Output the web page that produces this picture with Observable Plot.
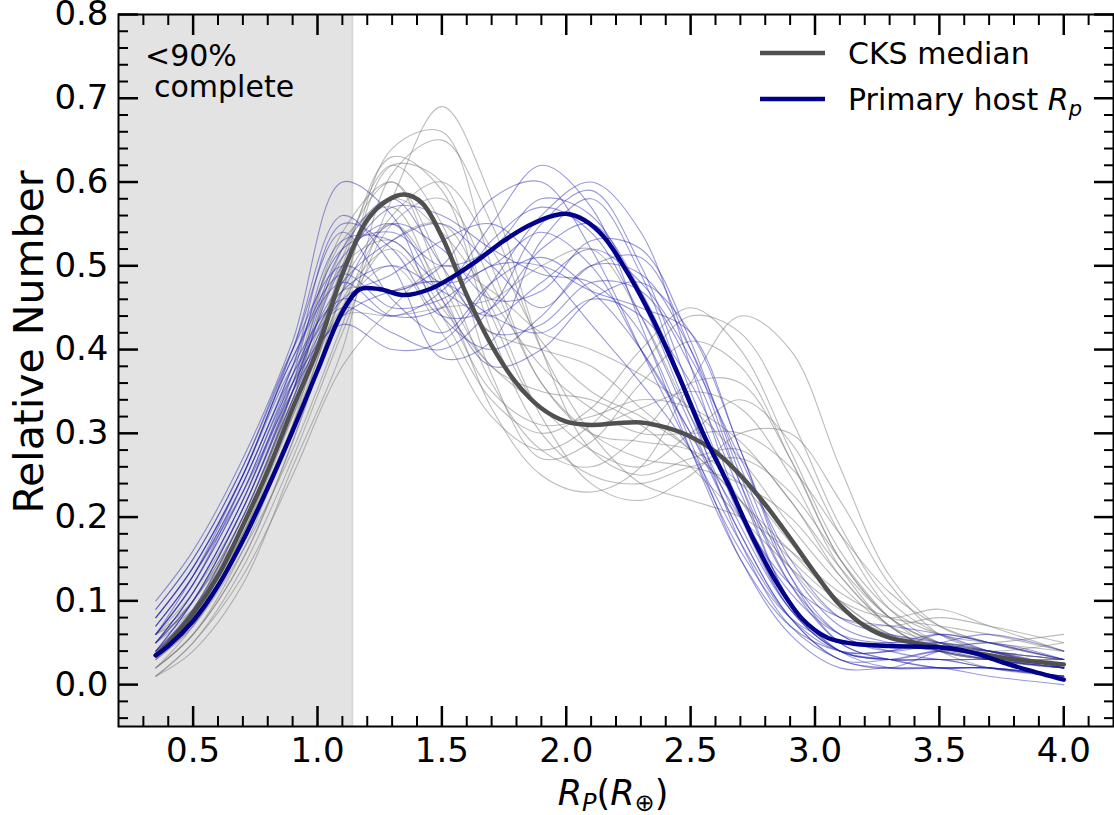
<!DOCTYPE html>
<html><head><meta charset="utf-8">
<script src="https://cdn.jsdelivr.net/npm/d3@7"></script>
<script src="https://cdn.jsdelivr.net/npm/@observablehq/plot@0.6"></script>
<style>
body{margin:0;background:#fff;}
#chart svg{display:block;}
</style></head><body><div id="chart"></div>
<script>
// ---- data ----
const gridX = [0.35, 0.5, 0.7, 0.9, 1.1, 1.3, 1.5, 1.7, 1.9, 2.1, 2.3, 2.5, 2.7, 2.9, 3.1, 3.3, 3.5, 3.7, 4.0];

// bootstrap KDE draws, CKS sample (grey)
const cksDraws = [
  [0.02, 0.06, 0.15, 0.29, 0.47, 0.64, 0.66, 0.50, 0.36, 0.30, 0.29, 0.28, 0.24, 0.17, 0.10, 0.06, 0.04, 0.03, 0.02],
  [0.05, 0.09, 0.20, 0.34, 0.52, 0.60, 0.50, 0.36, 0.28, 0.26, 0.30, 0.36, 0.36, 0.27, 0.15, 0.08, 0.05, 0.04, 0.03],
  [0.01, 0.05, 0.14, 0.27, 0.42, 0.55, 0.58, 0.48, 0.36, 0.30, 0.27, 0.26, 0.24, 0.20, 0.13, 0.07, 0.04, 0.03, 0.02],
  [0.06, 0.11, 0.21, 0.36, 0.54, 0.60, 0.48, 0.38, 0.35, 0.34, 0.31, 0.26, 0.20, 0.14, 0.09, 0.06, 0.05, 0.04, 0.05],
  [0.03, 0.08, 0.18, 0.32, 0.48, 0.55, 0.47, 0.33, 0.25, 0.23, 0.26, 0.36, 0.44, 0.40, 0.26, 0.13, 0.07, 0.05, 0.03],
  [0.04, 0.09, 0.20, 0.34, 0.47, 0.47, 0.48, 0.42, 0.40, 0.38, 0.33, 0.28, 0.22, 0.16, 0.10, 0.06, 0.04, 0.03, 0.03],
  [0.02, 0.06, 0.16, 0.31, 0.50, 0.63, 0.59, 0.42, 0.30, 0.25, 0.24, 0.26, 0.27, 0.23, 0.15, 0.08, 0.04, 0.02, 0.01],
  [0.06, 0.09, 0.19, 0.33, 0.44, 0.44, 0.45, 0.46, 0.50, 0.52, 0.44, 0.32, 0.22, 0.14, 0.08, 0.07, 0.08, 0.07, 0.05],
  [0.03, 0.07, 0.17, 0.30, 0.44, 0.53, 0.55, 0.45, 0.32, 0.24, 0.22, 0.25, 0.30, 0.30, 0.22, 0.12, 0.06, 0.04, 0.02],
  [0.05, 0.10, 0.19, 0.35, 0.51, 0.62, 0.55, 0.37, 0.27, 0.29, 0.36, 0.41, 0.38, 0.27, 0.15, 0.08, 0.05, 0.05, 0.06],
  [0.02, 0.07, 0.18, 0.33, 0.49, 0.58, 0.54, 0.46, 0.38, 0.33, 0.30, 0.30, 0.30, 0.26, 0.18, 0.11, 0.07, 0.05, 0.03],
  [0.04, 0.09, 0.19, 0.32, 0.45, 0.50, 0.42, 0.32, 0.28, 0.31, 0.38, 0.44, 0.42, 0.32, 0.19, 0.10, 0.06, 0.04, 0.02],
  [0.01, 0.04, 0.12, 0.26, 0.40, 0.61, 0.65, 0.55, 0.40, 0.30, 0.24, 0.22, 0.20, 0.16, 0.11, 0.08, 0.07, 0.06, 0.04],
  [0.05, 0.10, 0.20, 0.35, 0.53, 0.57, 0.46, 0.35, 0.31, 0.32, 0.34, 0.33, 0.29, 0.22, 0.14, 0.08, 0.05, 0.04, 0.03],
  [0.03, 0.07, 0.16, 0.28, 0.43, 0.58, 0.69, 0.58, 0.40, 0.28, 0.25, 0.27, 0.28, 0.22, 0.13, 0.07, 0.04, 0.03, 0.02],
  [0.04, 0.08, 0.17, 0.30, 0.46, 0.52, 0.44, 0.34, 0.30, 0.33, 0.40, 0.45, 0.40, 0.28, 0.16, 0.09, 0.06, 0.05, 0.04],
  [0.02, 0.06, 0.15, 0.29, 0.45, 0.56, 0.60, 0.52, 0.41, 0.35, 0.32, 0.28, 0.22, 0.15, 0.10, 0.08, 0.09, 0.07, 0.04],
  [0.06, 0.10, 0.20, 0.34, 0.50, 0.53, 0.45, 0.38, 0.33, 0.28, 0.26, 0.30, 0.34, 0.29, 0.18, 0.09, 0.05, 0.04, 0.03],
  [0.01, 0.05, 0.13, 0.25, 0.38, 0.45, 0.50, 0.47, 0.42, 0.40, 0.37, 0.33, 0.27, 0.19, 0.12, 0.07, 0.05, 0.04, 0.02],
  [0.03, 0.08, 0.18, 0.31, 0.47, 0.62, 0.60, 0.44, 0.33, 0.31, 0.33, 0.35, 0.33, 0.25, 0.14, 0.07, 0.04, 0.03, 0.02]
];

// bootstrap KDE draws, primary host radii (blue)
const hostDraws = [
  [0.06, 0.12, 0.24, 0.38, 0.55, 0.52, 0.44, 0.45, 0.52, 0.55, 0.47, 0.34, 0.20, 0.09, 0.04, 0.03, 0.04, 0.04, 0.02],
  [0.09, 0.15, 0.26, 0.40, 0.50, 0.47, 0.50, 0.58, 0.60, 0.52, 0.40, 0.28, 0.16, 0.08, 0.05, 0.05, 0.05, 0.04, 0.03],
  [0.04, 0.09, 0.20, 0.34, 0.47, 0.55, 0.52, 0.46, 0.47, 0.53, 0.52, 0.41, 0.25, 0.12, 0.05, 0.03, 0.03, 0.02, 0.01],
  [0.07, 0.13, 0.24, 0.37, 0.45, 0.42, 0.40, 0.45, 0.55, 0.59, 0.50, 0.35, 0.21, 0.11, 0.06, 0.05, 0.06, 0.05, 0.03],
  [0.05, 0.11, 0.22, 0.36, 0.52, 0.58, 0.50, 0.42, 0.43, 0.48, 0.47, 0.38, 0.24, 0.12, 0.06, 0.04, 0.03, 0.03, 0.02],
  [0.08, 0.14, 0.25, 0.39, 0.48, 0.44, 0.45, 0.53, 0.57, 0.54, 0.44, 0.31, 0.18, 0.08, 0.03, 0.02, 0.02, 0.02, 0.01],
  [0.10, 0.16, 0.27, 0.41, 0.60, 0.56, 0.44, 0.40, 0.44, 0.50, 0.49, 0.40, 0.26, 0.13, 0.06, 0.04, 0.05, 0.06, 0.04],
  [0.04, 0.10, 0.21, 0.35, 0.46, 0.49, 0.53, 0.55, 0.50, 0.43, 0.36, 0.28, 0.17, 0.08, 0.04, 0.04, 0.05, 0.04, 0.02],
  [0.06, 0.12, 0.23, 0.36, 0.43, 0.40, 0.41, 0.48, 0.56, 0.60, 0.54, 0.38, 0.21, 0.09, 0.04, 0.03, 0.03, 0.02, 0.01],
  [0.05, 0.11, 0.22, 0.37, 0.53, 0.53, 0.48, 0.50, 0.54, 0.50, 0.40, 0.30, 0.20, 0.12, 0.08, 0.07, 0.06, 0.04, 0.02],
  [0.07, 0.13, 0.23, 0.35, 0.44, 0.47, 0.48, 0.44, 0.42, 0.46, 0.44, 0.36, 0.23, 0.10, 0.04, 0.03, 0.03, 0.03, 0.03],
  [0.08, 0.14, 0.25, 0.40, 0.56, 0.50, 0.39, 0.41, 0.53, 0.58, 0.49, 0.33, 0.17, 0.07, 0.03, 0.02, 0.04, 0.05, 0.03],
  [0.05, 0.10, 0.21, 0.35, 0.50, 0.57, 0.56, 0.52, 0.49, 0.48, 0.42, 0.29, 0.15, 0.06, 0.02, 0.02, 0.02, 0.01, 0.00],
  [0.06, 0.13, 0.25, 0.39, 0.49, 0.45, 0.46, 0.50, 0.50, 0.47, 0.45, 0.42, 0.28, 0.14, 0.07, 0.05, 0.04, 0.03, 0.02],
  [0.07, 0.13, 0.24, 0.38, 0.52, 0.54, 0.50, 0.52, 0.58, 0.56, 0.46, 0.32, 0.19, 0.09, 0.04, 0.03, 0.02, 0.02, 0.01],
  [0.05, 0.11, 0.22, 0.36, 0.47, 0.50, 0.47, 0.44, 0.48, 0.52, 0.48, 0.39, 0.27, 0.15, 0.08, 0.06, 0.05, 0.03, 0.02],
  [0.09, 0.15, 0.26, 0.40, 0.54, 0.46, 0.42, 0.48, 0.51, 0.47, 0.40, 0.30, 0.18, 0.08, 0.03, 0.03, 0.04, 0.03, 0.02],
  [0.06, 0.12, 0.23, 0.37, 0.48, 0.53, 0.55, 0.50, 0.45, 0.50, 0.51, 0.40, 0.24, 0.10, 0.04, 0.02, 0.02, 0.02, 0.01],
  [0.08, 0.14, 0.25, 0.38, 0.46, 0.44, 0.47, 0.55, 0.62, 0.57, 0.43, 0.28, 0.15, 0.07, 0.04, 0.04, 0.06, 0.05, 0.03],
  [0.04, 0.10, 0.21, 0.35, 0.51, 0.55, 0.46, 0.38, 0.40, 0.46, 0.48, 0.42, 0.28, 0.13, 0.05, 0.03, 0.02, 0.02, 0.01]
];

// medians
const cksMedX = [0.35, 0.4, 0.5, 0.6, 0.7, 0.8, 0.9, 1.0, 1.1, 1.2, 1.28, 1.35, 1.42, 1.5, 1.6, 1.7, 1.8, 1.9, 2.0, 2.1, 2.2, 2.3, 2.4, 2.5, 2.6, 2.7, 2.8, 2.9, 3.0, 3.1, 3.2, 3.3, 3.4, 3.5, 3.6, 3.7, 3.8, 3.9, 4.0];
const cksMedY = [0.035, 0.05, 0.085, 0.13, 0.19, 0.255, 0.33, 0.40, 0.49, 0.555, 0.578, 0.585, 0.575, 0.535, 0.465, 0.405, 0.36, 0.33, 0.314, 0.31, 0.312, 0.313, 0.307, 0.296, 0.278, 0.25, 0.215, 0.175, 0.133, 0.095, 0.07, 0.056, 0.05, 0.045, 0.04, 0.035, 0.03, 0.027, 0.024];

const hostMedX = [0.35, 0.4, 0.5, 0.6, 0.7, 0.8, 0.9, 1.0, 1.1, 1.17, 1.25, 1.35, 1.45, 1.55, 1.65, 1.75, 1.85, 1.95, 2.0, 2.07, 2.15, 2.25, 2.35, 2.45, 2.55, 2.65, 2.75, 2.85, 2.95, 3.05, 3.15, 3.3, 3.45, 3.55, 3.65, 3.75, 3.85, 4.0];
const hostMedY = [0.035, 0.046, 0.076, 0.118, 0.172, 0.235, 0.303, 0.375, 0.445, 0.472, 0.472, 0.465, 0.472, 0.488, 0.508, 0.53, 0.548, 0.56, 0.562, 0.555, 0.535, 0.49, 0.435, 0.37, 0.30, 0.24, 0.175, 0.12, 0.078, 0.056, 0.049, 0.046, 0.045, 0.043, 0.037, 0.027, 0.018, 0.006];

const completenessLimit = [0.2, 1.14];

const xMajorTicks = [0.5, 1.0, 1.5, 2.0, 2.5, 3.0, 3.5, 4.0];
const xMinorTicks = [0.3, 0.4, 0.6, 0.7, 0.8, 0.9, 1.1, 1.2, 1.3, 1.4, 1.6, 1.7, 1.8, 1.9, 2.1, 2.2, 2.3, 2.4, 2.6, 2.7, 2.8, 2.9, 3.1, 3.2, 3.3, 3.4, 3.6, 3.7, 3.8, 3.9, 4.1];
const yMajorTicks = [0.0, 0.1, 0.2, 0.3, 0.4, 0.5, 0.6, 0.7, 0.8];
const yMinorTicks = [-0.04, -0.02, 0.02, 0.04, 0.06, 0.08, 0.12, 0.14, 0.16, 0.18, 0.22, 0.24, 0.26, 0.28, 0.32, 0.34, 0.36, 0.38, 0.42, 0.44, 0.46, 0.48, 0.52, 0.54, 0.56, 0.58, 0.62, 0.64, 0.66, 0.68, 0.72, 0.74, 0.76, 0.78];

const legendLabels = ["CKS median", "Primary host "];

// ---- tables ----
const cksRows = cksDraws.flatMap((ys, i) => ys.map((y, j) => ({x: gridX[j], y, id: i})));
const hostRows = hostDraws.flatMap((ys, i) => ys.map((y, j) => ({x: gridX[j], y, id: i})));
const cksMed = cksMedX.map((x, i) => ({x, y: cksMedY[i]}));
const hostMed = hostMedX.map((x, i) => ({x, y: hostMedY[i]}));

const fmt = d => d.toFixed(1);
const majorW = 2.5, minorW = 2;

const plot = Plot.plot({
  width: 1114, height: 815,
  marginLeft: 118, marginRight: 1, marginTop: 14, marginBottom: 89,
  x: {domain: [0.2, 4.2]},
  y: {domain: [-0.05, 0.8]},
  style: {fontFamily: "'DejaVu Sans', sans-serif", fontSize: "34px", color: "black", background: "white", overflow: "visible"},
  marks: [
    Plot.rect([{x1: completenessLimit[0], x2: completenessLimit[1]}], {x1: "x1", x2: "x2", fill: "#e3e3e3"}),
    Plot.ruleX([completenessLimit[1]], {stroke: "#d6d6d6", strokeWidth: 2}),
    Plot.line(cksRows, {x: "x", y: "y", z: "id", stroke: "#7a7a7a", strokeOpacity: 0.5, strokeWidth: 1.1, curve: "catmull-rom"}),
    Plot.line(hostRows, {x: "x", y: "y", z: "id", stroke: "#2020b0", strokeOpacity: 0.45, strokeWidth: 1.1, curve: "catmull-rom"}),
    Plot.line(cksMed, {x: "x", y: "y", stroke: "#505050", strokeWidth: 4.5, curve: "catmull-rom"}),
    Plot.line(hostMed, {x: "x", y: "y", stroke: "#00008b", strokeWidth: 4.5, curve: "catmull-rom"}),
    Plot.frame({stroke: "black", strokeWidth: 2}),
    // tick labels
    Plot.axisX(xMajorTicks, {anchor: "bottom", tickSize: 0, tickPadding: 11, tickFormat: fmt, label: null}),
    Plot.axisY(yMajorTicks, {anchor: "left", tickSize: 0, tickPadding: 10, tickFormat: fmt, label: null}),
    // inward ticks, all four sides
    Plot.axisX(xMajorTicks, {anchor: "bottom", tickSize: 20, dy: -20, strokeWidth: majorW, fill: "none", tickFormat: () => "", label: null}),
    Plot.axisX(xMinorTicks, {anchor: "bottom", tickSize: 10, dy: -10, strokeWidth: minorW, fill: "none", tickFormat: () => "", label: null}),
    Plot.axisX(xMajorTicks, {anchor: "top", tickSize: 20, dy: 20, strokeWidth: majorW, fill: "none", tickFormat: () => "", label: null}),
    Plot.axisX(xMinorTicks, {anchor: "top", tickSize: 10, dy: 10, strokeWidth: minorW, fill: "none", tickFormat: () => "", label: null}),
    Plot.axisY(yMajorTicks, {anchor: "left", tickSize: 20, dx: 20, strokeWidth: majorW, fill: "none", tickFormat: () => "", label: null}),
    Plot.axisY(yMinorTicks, {anchor: "left", tickSize: 10, dx: 10, strokeWidth: minorW, fill: "none", tickFormat: () => "", label: null}),
    Plot.axisY(yMajorTicks, {anchor: "right", tickSize: 20, dx: -20, strokeWidth: majorW, fill: "none", tickFormat: () => "", label: null}),
    Plot.axisY(yMinorTicks, {anchor: "right", tickSize: 10, dx: -10, strokeWidth: minorW, fill: "none", tickFormat: () => "", label: null})
  ]
});

document.getElementById("chart").appendChild(plot);

// ---- text decorations ----
const svg = d3.select(plot);
const FF = "'DejaVu Sans', sans-serif";
const txt = (x, y, size) => svg.append("text").attr("x", x).attr("y", y)
  .attr("text-anchor", "start").attr("font-family", FF).attr("font-size", size).attr("fill", "black");

// y label
svg.append("text").attr("transform", "translate(43,342) rotate(-90)")
  .attr("text-anchor", "middle").attr("font-family", FF).attr("font-size", 41).attr("fill", "black")
  .text("Relative Number");

// x label
const xl = svg.append("text").attr("x", 613).attr("y", 805).attr("text-anchor", "middle")
  .attr("font-family", FF).attr("font-size", 35).attr("fill", "black");
xl.append("tspan").attr("font-style", "italic").text("R");
xl.append("tspan").attr("font-style", "italic").attr("font-size", 24).attr("dy", 6).text("P");
xl.append("tspan").attr("dy", -6).text("(");
xl.append("tspan").attr("font-style", "italic").text("R");
xl.append("tspan").attr("font-size", 24).attr("dy", 6).text("\u2295");
xl.append("tspan").attr("dy", -6).text(")");

// completeness annotation
txt(145, 66, 30).text("<90%");
txt(154, 97, 30).text("complete");

// legend
const lg = svg.append("g");
lg.append("line").attr("x1", 760).attr("x2", 825).attr("y1", 53).attr("y2", 53).attr("stroke", "#505050").attr("stroke-width", 4.5);
lg.append("line").attr("x1", 760).attr("x2", 825).attr("y1", 99).attr("y2", 99).attr("stroke", "#00008b").attr("stroke-width", 4.5);
txt(848, 64, 30).text(legendLabels[0]);
const l2 = txt(848, 110, 30);
l2.append("tspan").text(legendLabels[1]);
l2.append("tspan").attr("font-style", "italic").text("R");
l2.append("tspan").attr("font-style", "italic").attr("font-size", 21).attr("dy", 6).text("p");
</script></body></html>
